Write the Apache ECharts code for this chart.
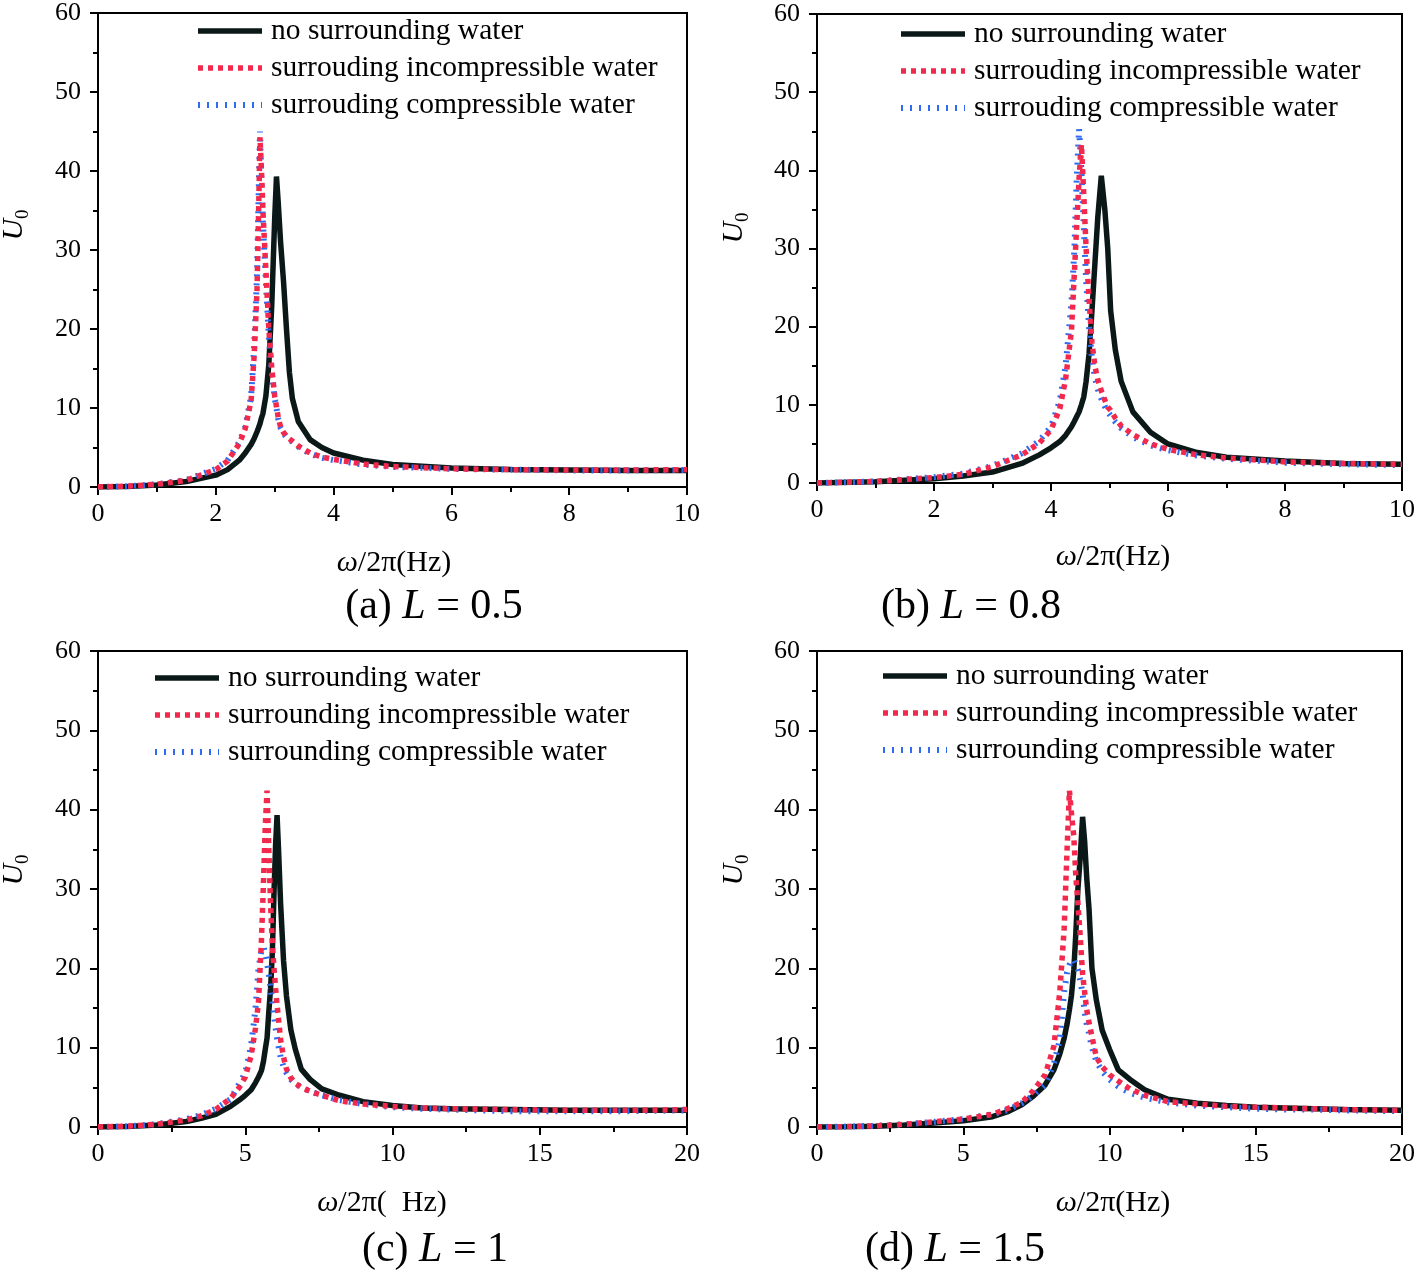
<!DOCTYPE html>
<html><head><meta charset="utf-8">
<script src="https://cdn.jsdelivr.net/npm/echarts@6/dist/echarts.min.js"></script>
<style>html,body{margin:0;padding:0;background:#fff}#c{width:1418px;height:1273px}</style>
</head><body><div id="c"></div><script>
// ---------- data ----------
const freqA = [0,0.5,1,1.5,2,2.2,2.4,2.5,2.6,2.65,2.7,2.73,2.75,2.77,2.8,2.85,2.9,2.95,3.0,3.03,3.06,3.1,3.15,3.2,3.25,3.3,3.4,3.6,3.8,4,4.5,5,6,7,8,9,10];
const noWaterA = [0,0.05,0.25,0.7,1.5,2.2,3.4,4.3,5.4,6.1,7.0,7.6,8.0,8.6,9.3,11.5,15.5,23,34,39.3,36,31,26,20,14.5,11.2,8.3,6.0,5.0,4.3,3.4,2.85,2.4,2.2,2.15,2.1,2.1];
const incompA = [0,0.1,0.35,0.85,2.2,3.3,5.5,7.4,11,16.5,25,36,44.3,41,35,27.5,20,15,11.5,10.2,8.8,7.6,6.9,6.4,6.1,5.8,5.2,4.3,3.8,3.5,2.9,2.6,2.3,2.2,2.15,2.15,2.2];
const compA = [0,0.1,0.35,0.9,2.3,3.4,5.7,7.6,11.5,17.5,27,38,45,40,33.5,26,19,14.5,11.2,10,8.6,7.5,6.8,6.3,6.0,5.7,5.1,4.2,3.7,3.4,2.85,2.55,2.3,2.2,2.1,2.1,2.15];

const freqB = [0,1,2,2.5,3,3.5,3.8,4,4.15,4.25,4.35,4.4,4.44,4.48,4.52,4.56,4.6,4.65,4.7,4.75,4.8,4.86,4.92,4.97,5.02,5.1,5.2,5.4,5.7,6,6.5,7,8,9,10];
const noWaterB = [0,0.15,0.55,0.9,1.4,2.5,3.6,4.5,5.3,6.1,7.2,7.9,8.5,9.1,10,11,13,16.5,22,28,34,39.3,35,30,22,17,13,9.1,6.5,5.0,3.9,3.3,2.8,2.5,2.4];
const incompB = [0,0.2,0.7,1.1,2.1,3.6,5.1,6.8,9.5,13.3,19.5,27,33,39,43.3,37,30,23.5,18,15,13.2,11.8,10.6,9.7,9.3,8.3,7.3,6.2,5.0,4.3,3.6,3.2,2.7,2.5,2.4];
const compB = [0,0.2,0.75,1.2,2.2,3.8,5.4,7.2,10.5,15,23,30,39,45.3,40,33,26,20,16,13.5,12,10.8,9.8,9.1,8.6,7.8,7.0,5.9,4.8,4.2,3.5,3.1,2.6,2.4,2.3];

const freqC = [0,1,2,3,3.5,4,4.5,4.8,5,5.2,5.35,5.45,5.55,5.62,5.68,5.74,5.8,5.86,5.92,5.98,6.03,6.08,6.13,6.2,6.3,6.4,6.55,6.7,6.9,7.2,7.6,8.2,9,10,11,12,14,16,18,20];
const noWaterC = [0,0.05,0.25,0.7,1.1,1.6,2.6,3.4,4.0,4.7,5.6,6.3,7.1,8.3,9.8,11.2,14.5,17.5,22,30,35.5,39.3,35,28.2,21,16.5,12.2,9.8,7.3,6.0,4.8,4.0,3.2,2.7,2.4,2.3,2.2,2.1,2.1,2.1];
const incompC = [0,0.1,0.35,0.9,1.4,2.2,3.6,5.0,6.3,9.0,12.5,15.8,23.5,31,38,42.4,35,28,23,19.8,17.5,15.4,13.6,11,8.8,7.3,6.2,5.5,5.0,4.5,4.0,3.3,2.9,2.6,2.4,2.3,2.2,2.1,2.1,2.2];
const compC = [0,0.1,0.35,1.0,1.5,2.3,3.5,5.5,6.8,10.3,15,20,22.3,22.7,21.8,20.7,19.3,17.5,15.8,14,12.5,11.2,10.2,8.8,7.6,6.8,6.0,5.5,5.0,4.5,4.0,3.4,2.9,2.5,2.3,2.2,2.0,2.0,2.0,2.1];

const freqD = [0,1,2,3,4,5,6,6.5,7,7.4,7.8,8.1,8.3,8.45,8.55,8.63,8.7,8.78,8.85,8.92,9.0,9.08,9.15,9.22,9.3,9.4,9.55,9.75,10,10.3,10.7,11.2,12,13,14,15,16,17,18,20];
const noWaterD = [0,0.03,0.1,0.25,0.5,0.8,1.3,1.9,2.8,3.9,5.3,7.2,9.2,11.2,13,14.8,16.6,19.8,24.5,30,34,39.1,36,31.5,27.5,20,16,12.2,9.8,7.2,6.0,4.7,3.5,3.0,2.7,2.5,2.4,2.3,2.2,2.1];
const incompD = [0,0.05,0.15,0.35,0.65,1.0,1.6,2.3,3.1,4.6,6.6,10.2,17,25,35,42.4,39.5,36.6,31.5,28.2,24,19.3,17,14.8,13.2,11.4,8.8,7.6,6.6,5.8,4.8,4.0,3.2,2.9,2.6,2.5,2.4,2.3,2.2,2.1];
const compD = [0,0.05,0.15,0.35,0.65,1.0,1.6,2.1,3.0,4.0,5.3,8,11,17,19.5,20.4,20.9,21.1,20.5,19.8,18.5,16.8,14.5,13,11.8,10,8.3,7,6,5.1,4.3,3.7,3.1,2.7,2.5,2.3,2.2,2.2,2.1,2.0];

const yTicks = [0,10,20,30,40,50,60];
const namesTop = ['no surrounding water','surrouding incompressible water','surrouding compressible water'];
const namesBot = ['no surrounding water','surrounding incompressible water','surrounding compressible water'];
const captions = [['(a) ','L',' = 0.5'],['(b) ','L',' = 0.8'],['(c) ','L',' = 1'],['(d) ','L',' = 1.5']];
const xNames = ['(Hz)','(Hz)','(  Hz)','(Hz)'];

// ---------- layout ----------
const FONT = 'Liberation Serif';
const grids = [
  {left:98, top:10, width:589, height:477},
  {left:817, top:14, width:588, height:469},
  {left:98, top:651, width:589, height:476},
  {left:817, top:651, width:588, height:476}
];
const xMax = [10,10,20,20], xInt = [2,2,5,5];
const BLACK = '#0b1818', RED = '#f2294d', BLUE = '#2e6bef';
const LW = {black:5.5, red:5.5, blue:6};

const option = {
  animation:false,
  backgroundColor:'#fff',
  grid: grids.map(g => Object.assign({show:true, borderColor:'#000', borderWidth:2, backgroundColor:'transparent'}, g)),
  xAxis: grids.map((g,i) => ({
    type:'value', gridIndex:i, min:0, max:xMax[i], interval:xInt[i],
    axisLine:{show:true, onZero:false, lineStyle:{color:'#000', width:2}},
    axisTick:{show:true, inside:false, length:8, lineStyle:{color:'#000', width:2}},
    minorTick:{show:true, splitNumber:2, length:5, lineStyle:{color:'#000', width:2}},
    splitLine:{show:false},
    axisLabel:{color:'#000', fontFamily:FONT, fontSize:26, margin:14}
  })),
  yAxis: grids.map((g,i) => ({
    type:'value', gridIndex:i, min:yTicks[0], max:yTicks[yTicks.length-1], interval:10,
    axisLine:{show:true, onZero:false, lineStyle:{color:'#000', width:2}},
    axisTick:{show:true, inside:false, length:8, lineStyle:{color:'#000', width:2}},
    minorTick:{show:true, splitNumber:2, length:5, lineStyle:{color:'#000', width:2}},
    splitLine:{show:false},
    axisLabel:{color:'#000', fontFamily:FONT, fontSize:26, margin:17}
  })),
  legend: [
    {left:195, top:16}, {left:898, top:19}, {left:152, top:663}, {left:880, top:661}
  ].map((p,i) => {
    const names = i < 2 ? namesTop : namesBot;
    const widths = [LW.black, LW.red, LW.blue];
    return {
      left:p.left, top:p.top, padding:0, orient:'vertical', itemWidth:64, itemHeight:14, itemGap:7,
      data: names.map((n,k) => ({name:n, lineStyle:{width:widths[k]}})),
      selectedMode:false,
      itemStyle:{opacity:0, borderWidth:0},
      textStyle:{color:'#000', fontFamily:FONT, fontSize:29.5, lineHeight:30, padding:[0,0,0,4]}
    };
  }),
  series: [],
  graphic: []
};

const panels = [
  [freqA, noWaterA, incompA, compA],
  [freqB, noWaterB, incompB, compB],
  [freqC, noWaterC, incompC, compC],
  [freqD, noWaterD, incompD, compD]
];
panels.forEach((p,i) => {
  const names = i < 2 ? namesTop : namesBot;
  const f = p[0];
  const mk = arr => f.map((x,k) => [x, arr[k]]);
  option.series.push({
    type:'line', name:names[0], xAxisIndex:i, yAxisIndex:i, data:mk(p[1]),
    symbol:'none', showSymbol:false, z:2, color:BLACK,
    lineStyle:{color:BLACK, width:LW.black, type:'solid'}
  });
  option.series.push({
    type:'line', name:names[2], xAxisIndex:i, yAxisIndex:i, data:mk(p[3]),
    symbol:'none', showSymbol:false, z:3, color:BLUE,
    lineStyle:{color:BLUE, width:LW.blue, type:[2,7]}
  });
  option.series.push({
    type:'line', name:names[1], xAxisIndex:i, yAxisIndex:i, data:mk(p[2]),
    symbol:'none', showSymbol:false, z:4, color:RED,
    lineStyle:{color:RED, width:LW.red, type:[5,5]}
  });
});

// axis names and captions
const xNamePos = [[394,563],[1113,557],[382,1203],[1113,1203]];
const yNamePos = [[15,225],[735,228],[15,870],[735,870]];
const capPos = [[434,607],[971,607],[435,1250],[955,1250]];
for (let i=0;i<4;i++) {
  option.graphic.push({
    type:'text', x:xNamePos[i][0], y:xNamePos[i][1], silent:true,
    style:{text:'{i|ω}/2π'+xNames[i], align:'center', verticalAlign:'middle', fill:'#000',
      font:'30px "Liberation Serif"',
      rich:{i:{fontStyle:'italic', fontFamily:FONT, fontSize:30, fill:'#000'}}}
  });
  option.graphic.push({
    type:'text', x:yNamePos[i][0], y:yNamePos[i][1], rotation:Math.PI/2, silent:true,
    style:{text:'{u|U}{s|0}', align:'center', verticalAlign:'middle', fill:'#000',
      font:'28px "Liberation Serif"',
      rich:{u:{fontStyle:'italic', fontFamily:FONT, fontSize:30, fill:'#000', lineHeight:32, verticalAlign:'top'},
            s:{fontFamily:FONT, fontSize:19, fill:'#000', lineHeight:32, padding:[15,0,0,0], verticalAlign:'top'}}}
  });
  const c = captions[i];
  option.graphic.push({
    type:'text', x:capPos[i][0], y:capPos[i][1], silent:true,
    style:{text:c[0]+'{l|'+c[1]+'}'+c[2], align:'center', verticalAlign:'middle', fill:'#000',
      font:'42px "Liberation Serif"',
      rich:{l:{fontStyle:'italic', fontFamily:FONT, fontSize:42, fill:'#000'}}}
  });
}

const chart = echarts.init(document.getElementById('c'), null, {renderer:'canvas'});
chart.setOption(option);
</script></body></html>
